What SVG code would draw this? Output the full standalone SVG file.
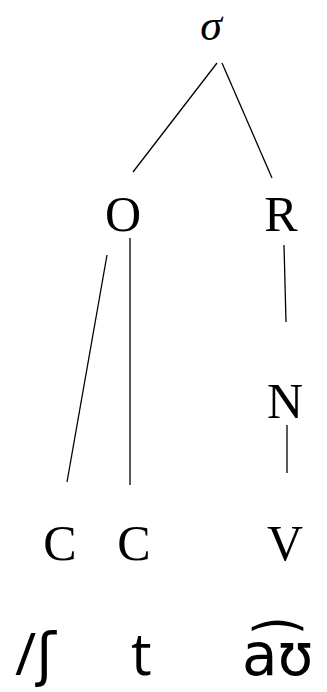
<svg xmlns="http://www.w3.org/2000/svg" width="327" height="692" viewBox="0 0 327 692">
<style>
.lbl{font-family:"Liberation Serif","DejaVu Serif",serif;font-size:50px;fill:#000;text-anchor:middle}
.sig{font-style:italic;font-size:44px}
.ipa{font-family:"Open Sans","DejaVu Sans",sans-serif;font-size:58px;fill:#000}
.e{stroke:#000;stroke-width:1.3;fill:none}
</style>
<rect width="327" height="692" fill="#fff"/>
<g id="connectors">
<line class="e" x1="217" y1="63" x2="133" y2="172"/>
<line class="e" x1="222" y1="63" x2="272" y2="178"/>
<line class="e" x1="107" y1="255" x2="67" y2="482"/>
<line class="e" x1="130" y1="238" x2="130" y2="485"/>
<line class="e" x1="284" y1="245" x2="286" y2="322"/>
<line class="e" x1="287" y1="425" x2="287" y2="473"/>
</g>
<g id="sigma"><text class="lbl sig" x="211" y="40">σ</text></g>
<g id="O"><text class="lbl" x="123" y="231">O</text></g>
<g id="R"><text class="lbl" x="281" y="231">R</text></g>
<g id="N"><text class="lbl" x="285" y="418">N</text></g>
<g id="C1"><text class="lbl" x="60" y="560">C</text></g>
<g id="C2"><text class="lbl" x="134" y="560">C</text></g>
<g id="V"><text class="lbl" x="285" y="560">V</text></g>
<g id="ipa">
<text class="ipa" x="15" y="675">/ʃ</text>
<text class="ipa" x="131" y="675">t</text>
<text class="ipa" x="242" y="675">a͡ʊ</text>
</g>
</svg>
